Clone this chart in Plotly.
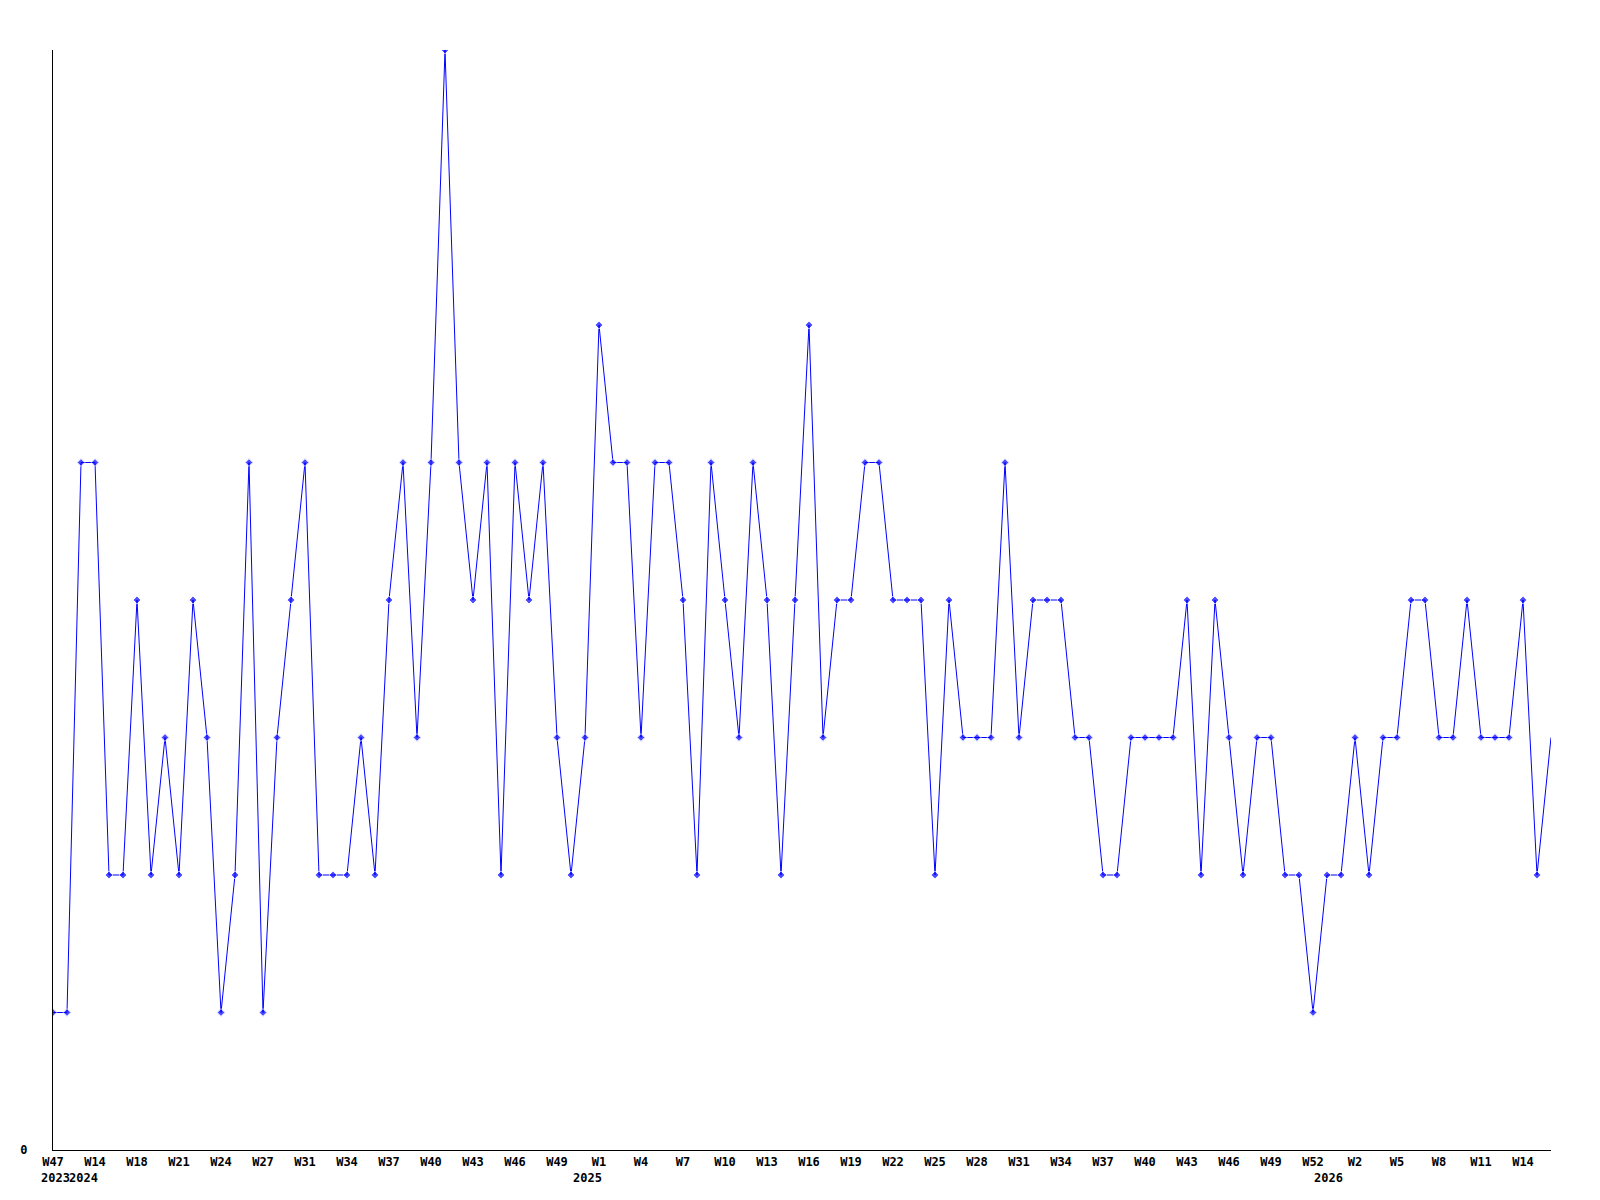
import plotly.graph_objects as go

values = [1, 1, 5, 5, 2, 2, 4, 2, 3, 2, 4, 3, 1, 2, 5, 1, 3, 4, 5, 2,
          2, 2, 3, 2, 4, 5, 3, 5, 8, 5, 4, 5, 2, 5, 4, 5, 3, 2, 3, 6,
          5, 5, 3, 5, 5, 4, 2, 5, 4, 3, 5, 4, 2, 4, 6, 3, 4, 4, 5, 5,
          4, 4, 4, 2, 4, 3, 3, 3, 5, 3, 4, 4, 4, 3, 3, 2, 2, 3, 3, 3,
          3, 4, 2, 4, 3, 2, 3, 3, 2, 2, 1, 2, 2, 3, 2, 3, 3, 4, 4, 3,
          3, 4, 3, 3, 3, 4, 2, 3]

week_labels = ["W47", "W14", "W18", "W21", "W24", "W27", "W31", "W34", "W37",
               "W40", "W43", "W46", "W49", "W1", "W4", "W7", "W10", "W13",
               "W16", "W19", "W22", "W25", "W28", "W31", "W34", "W37", "W40",
               "W43", "W46", "W49", "W52", "W2", "W5", "W8", "W11", "W14"]
week_label_index = list(range(0, 108, 3))

year_labels = ["2023", "2024", "2025", "2026"]
year_positions = [0.2, 2.2, 38.2, 91.1]

x = list(range(len(values)))
sizes = [6] * (len(values) - 1) + [0]

fig = go.Figure()
fig.add_trace(go.Scatter(
    x=x, y=values, mode="lines+markers",
    line=dict(color="#0000FF", width=1),
    marker=dict(symbol="diamond", size=sizes, color="#0000FF"),
    hoverinfo="skip",
))

font = dict(family="DejaVu Sans Mono", size=12, color="black", weight="bold")

for label, pos in zip(year_labels, year_positions):
    fig.add_annotation(x=pos, y=0, xref="x", yref="paper", text=label,
                       showarrow=False, yanchor="top", yshift=-19, font=font)

fig.update_layout(
    width=1600, height=1200,
    margin=dict(l=42, r=57, t=42, b=58),
    paper_bgcolor="white", plot_bgcolor="white",
    showlegend=False,
    xaxis=dict(range=[0, 107], showgrid=False, zeroline=False,
               showline=True, linecolor="black", linewidth=1,
               tickvals=week_label_index, ticktext=week_labels,
               ticks="", tickfont=font, ticklabelstandoff=1),
    yaxis=dict(range=[0, 8], showgrid=False, zeroline=False,
               showline=True, linecolor="black", linewidth=1,
               tickvals=[0], ticktext=["0"], ticks="",
               tickfont=font, ticklabelstandoff=22),
)

fig.write_html("out.html")
